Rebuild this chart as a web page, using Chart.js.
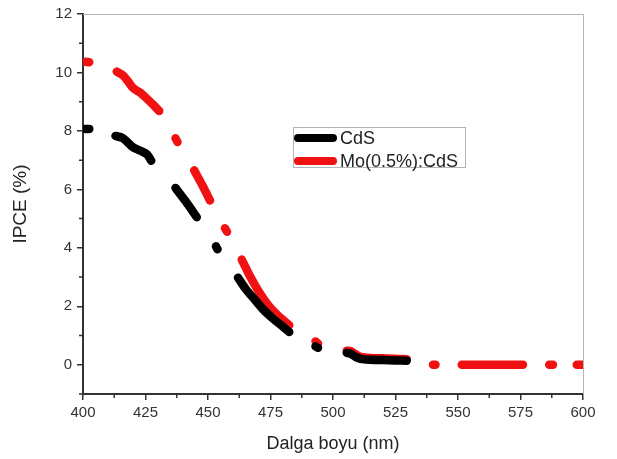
<!DOCTYPE html>
<html>
<head>
<meta charset="utf-8">
<script src="https://cdn.jsdelivr.net/npm/chart.js@4"></script>
<style>
  html, body { margin: 0; padding: 0; background: #fff; }
  #wrap { width: 617px; height: 459px; position: relative; }
</style>
</head>
<body>
<div id="wrap"><canvas id="ipce"></canvas></div>
<script>
// ------------------------------------------------------------
// IPCE vs wavelength, CdS vs Mo(0.5%):CdS.
// The source plot has gaps in both curves; a null breaks the line.
// ------------------------------------------------------------

const cdsWl = [400.8, 402.5, null, 413, 416, 420, 423, 425.6, 427.3, null,
  437, 441, 445.5, null, 453.2, 453.8, null,
  462, 465, 468, 472, 476, 480, 482.5, null, 493, 494, null,
  505.5, 507, 509, 511, 515, 520, 525, 529.5];
const cdsVal = [8.07, 8.07, null, 7.83, 7.75, 7.44, 7.32, 7.2, 6.98, null,
  6.05, 5.6, 5.05, null, 4.05, 3.95, null,
  2.98, 2.6, 2.3, 1.9, 1.58, 1.3, 1.12, null, 0.63, 0.58, null,
  0.41, 0.38, 0.27, 0.2, 0.17, 0.16, 0.15, 0.14];

const moWl = [400.8, 402.5, null, 413.5, 416, 418, 420, 423, 425.6, 428, 430.5, null,
  437, 437.8, null, 444.5, 448, 450.8, null, 456.8, 457.6, null,
  463.5, 467, 470, 474, 478, 482.5, null, 493, 494, null,
  505.5, 507, 509, 511, 515, 520, 525, 529.5, null,
  540, 541, null, 551.5, 560, 570, 576, null, 586.5, 588, null, 597.5, 600];
const moVal = [10.37, 10.35, null, 10.03, 9.9, 9.7, 9.47, 9.3, 9.1, 8.9, 8.68, null,
  7.75, 7.62, null, 6.65, 6.1, 5.62, null, 4.67, 4.55, null,
  3.6, 3.0, 2.55, 2.05, 1.68, 1.35, null, 0.8, 0.72, null,
  0.48, 0.47, 0.36, 0.27, 0.23, 0.22, 0.21, 0.19, null,
  0, 0, null, 0, 0, 0, 0, null, 0, 0, null, 0, 0];

const xMajor = [400, 425, 450, 475, 500, 525, 550, 575, 600];
const xMinor = [412.5, 437.5, 462.5, 487.5, 512.5, 537.5, 562.5, 587.5];
const yMajor = [0, 2, 4, 6, 8, 10, 12];
const yMinor = [-1, 1, 3, 5, 7, 9, 11];

const seriesNames = ["CdS", "Mo(0.5%):CdS"];
const seriesColors = ["#000000", "#f01212"];

const AXIS = "#333333";
const FONT = "'Liberation Sans', Arial, sans-serif";

// pair up x/y arrays; a null y leaves a gap
function points(xs, ys) {
  return xs.map((x, i) => ({ x: x === null ? NaN : x, y: ys[i] }));
}

// Short outside ticks between the labelled ones, plus the grey top/right frame.
const frameAndMinor = {
  id: "frameAndMinor",
  afterDraw(chart) {
    const { ctx, chartArea: a, scales: { x, y } } = chart;
    ctx.save();
    ctx.strokeStyle = "#b4b4b4";
    ctx.lineWidth = 1;
    ctx.beginPath();
    ctx.moveTo(a.left, a.top + 0.5);
    ctx.lineTo(a.right + 0.5, a.top + 0.5);
    ctx.lineTo(a.right + 0.5, a.bottom);
    ctx.stroke();

    ctx.strokeStyle = AXIS;
    ctx.lineWidth = 1.5;
    ctx.beginPath();
    for (const v of xMinor) {
      const px = x.getPixelForValue(v);
      ctx.moveTo(px, a.bottom); ctx.lineTo(px, a.bottom + 4);
    }
    for (const v of yMinor) {
      const py = y.getPixelForValue(v);
      ctx.moveTo(a.left, py); ctx.lineTo(a.left - 4, py);
    }
    ctx.stroke();
    ctx.restore();
  }
};

// Boxed legend sitting inside the plot, as in the original figure.
const boxLegend = {
  id: "boxLegend",
  afterDraw(chart, args, opts) {
    const { ctx } = chart;
    const { left, top, width, height, rowGap } = opts;
    ctx.save();
    ctx.fillStyle = "#fff";
    ctx.fillRect(left, top, width, height);
    ctx.strokeStyle = "#b4b4b4";
    ctx.lineWidth = 1;
    ctx.strokeRect(left + 0.5, top + 0.5, width, height);
    chart.data.datasets.forEach((ds, i) => {
      const cy = top + 11 + i * rowGap;
      ctx.strokeStyle = ds.borderColor;
      ctx.lineWidth = 8;
      ctx.lineCap = "round";
      ctx.beginPath();
      ctx.moveTo(left + 5, cy); ctx.lineTo(left + 40, cy);
      ctx.stroke();
      ctx.fillStyle = "#222";
      ctx.font = "18px " + FONT;
      ctx.textBaseline = "middle";
      ctx.fillText(ds.label, left + 47, cy + 1);
    });
    ctx.restore();
  }
};

new Chart(document.getElementById("ipce"), {
  type: "line",
  data: {
    datasets: [
      { label: seriesNames[0], data: points(cdsWl, cdsVal) },
      { label: seriesNames[1], data: points(moWl, moVal) },
    ].map((d, i) => ({
      ...d,
      borderColor: seriesColors[i], backgroundColor: seriesColors[i],
      borderWidth: 8.5, borderCapStyle: "round", borderJoinStyle: "round",
      pointRadius: 0, tension: 0.3, spanGaps: false, clip: 0,
    }))
  },
  options: {
    responsive: true, maintainAspectRatio: false, animation: false,
    layout: { padding: { top: 12, right: 34, left: 0, bottom: 0 } },
    plugins: {
      legend: { display: false }, tooltip: { enabled: false },
      boxLegend: { left: 293, top: 127, width: 172, height: 40, rowGap: 23 },
    },
    scales: {
      x: {
        type: "linear", min: 400, max: 600,
        afterFit: s => { s.height = 65; },
        afterBuildTicks: s => { s.ticks = xMajor.map(v => ({ value: v })); },
        grid: { drawOnChartArea: false, tickLength: 6, color: AXIS, lineWidth: 1.5 },
        border: { color: AXIS, width: 2 },
        ticks: { color: "#333", padding: 4, font: { family: FONT, size: 15 } },
        title: { display: true, text: "Dalga boyu (nm)", color: "#222",
                 padding: { bottom: 4 }, font: { family: FONT, size: 18 } },
      },
      y: {
        min: -1, max: 12,
        afterFit: s => { s.width = 83; },
        afterBuildTicks: s => { s.ticks = yMajor.map(v => ({ value: v })); },
        grid: { drawOnChartArea: false, tickLength: 6, color: AXIS, lineWidth: 1.5 },
        border: { color: AXIS, width: 2 },
        ticks: { color: "#333", padding: 5, font: { family: FONT, size: 15 } },
        title: { display: true, text: "IPCE (%)", color: "#222",
                 padding: { top: 9 }, font: { family: FONT, size: 19 } },
      }
    }
  },
  plugins: [frameAndMinor, boxLegend]
});
</script>
</body>
</html>
